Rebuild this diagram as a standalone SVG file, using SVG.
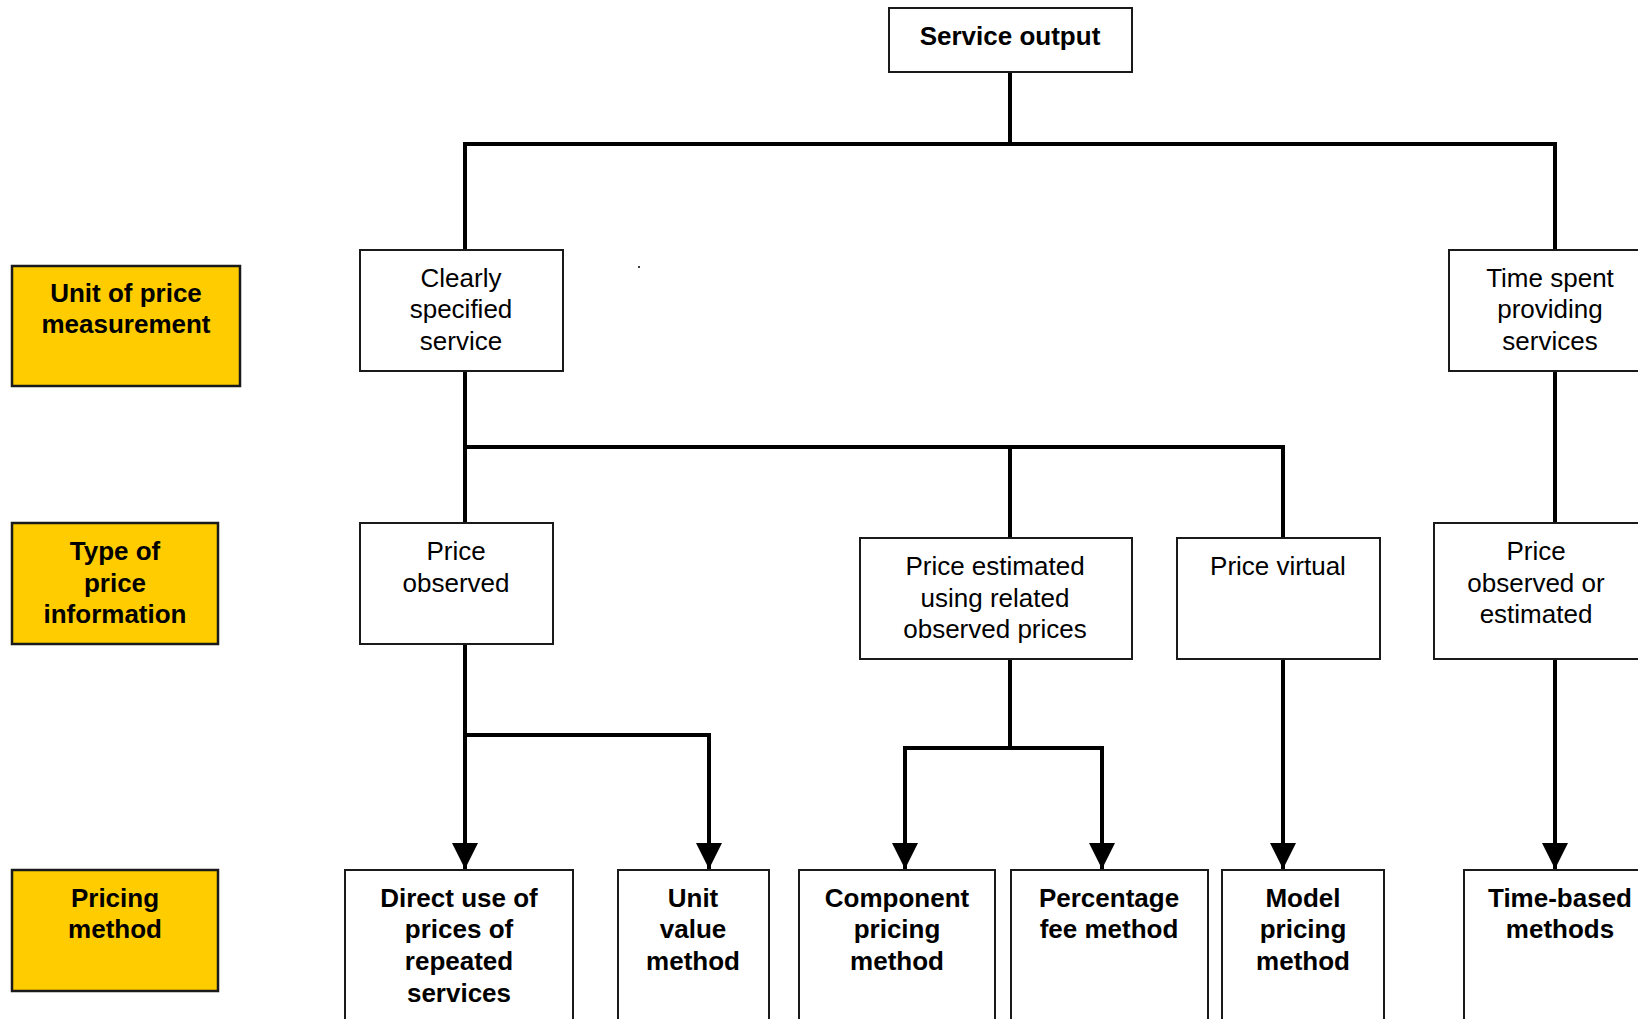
<svg xmlns="http://www.w3.org/2000/svg" width="1638" height="1019" viewBox="0 0 1638 1019">
<style>
.box{fill:#fff;stroke:#1a1a1a;stroke-width:2}
.lbl{fill:#FFCC00;stroke:#1a1a1a;stroke-width:2.5}
.t{font-family:"Liberation Sans",Arial,sans-serif;font-size:26px;fill:#000;text-anchor:middle}
.b{font-weight:bold}
.c{fill:none;stroke:#000;stroke-width:4;stroke-linejoin:miter;stroke-linecap:square}
.a{stroke-linecap:butt}
</style>
<defs>
<marker id="arr" markerUnits="userSpaceOnUse" markerWidth="26" markerHeight="26" viewBox="0 0 26 26" refX="26" refY="13" orient="auto">
<path d="M0,0 L26,13 L0,26 Z" fill="#000"/>
</marker>
</defs>
<rect width="1638" height="1019" fill="#fff"/>
<g id="connectors">
<path class="c" d="M1010,72 V144"/>
<path class="c" d="M465,250 V144 H1555 V250"/>
<path class="c" d="M465,371 V523"/>
<path class="c" d="M465,447 H1283 V541"/>
<path class="c" d="M1010,447 V537"/>
<path class="c" d="M1555,371 V523"/>
<path class="c" d="M465,735 H709"/>
<path class="c a" d="M465,644 V869" marker-end="url(#arr)"/>
<path class="c a" d="M709,735 V869" marker-end="url(#arr)"/>
<path class="c" d="M1010,659 V748"/>
<path class="c" d="M905,748 H1102"/>
<path class="c a" d="M905,748 V869" marker-end="url(#arr)"/>
<path class="c a" d="M1102,748 V869" marker-end="url(#arr)"/>
<path class="c a" d="M1283,659 V869" marker-end="url(#arr)"/>
<path class="c a" d="M1555,659 V869" marker-end="url(#arr)"/>
</g>
<g id="lbl-unit">
<rect class="lbl" x="12" y="266" width="228" height="120"/>
<text class="t b" x="126" y="302">Unit of price</text>
<text class="t b" x="126" y="333">measurement</text>
</g>
<g id="lbl-type">
<rect class="lbl" x="12" y="523" width="206" height="121"/>
<text class="t b" x="115" y="560">Type of</text>
<text class="t b" x="115" y="592">price</text>
<text class="t b" x="115" y="623">information</text>
</g>
<g id="lbl-method">
<rect class="lbl" x="12" y="870" width="206" height="121"/>
<text class="t b" x="115" y="907">Pricing</text>
<text class="t b" x="115" y="938">method</text>
</g>
<g id="service-output">
<rect class="box" x="889" y="8" width="243" height="64"/>
<text class="t b" x="1010" y="45">Service output</text>
</g>
<g id="clearly-specified">
<rect class="box" x="360" y="250" width="203" height="121"/>
<text class="t" x="461" y="287">Clearly</text>
<text class="t" x="461" y="318">specified</text>
<text class="t" x="461" y="350">service</text>
</g>
<g id="time-spent">
<rect class="box" x="1449" y="250" width="200" height="121"/>
<text class="t" x="1550" y="287">Time spent</text>
<text class="t" x="1550" y="318">providing</text>
<text class="t" x="1550" y="350">services</text>
</g>
<circle cx="639" cy="267" r="1" fill="#000"/>
<g id="price-observed">
<rect class="box" x="360" y="523" width="193" height="121"/>
<text class="t" x="456" y="560">Price</text>
<text class="t" x="456" y="592">observed</text>
</g>
<g id="price-estimated">
<rect class="box" x="860" y="538" width="272" height="121"/>
<text class="t" x="995" y="575">Price estimated</text>
<text class="t" x="995" y="607">using related</text>
<text class="t" x="995" y="638">observed prices</text>
</g>
<g id="price-virtual">
<rect class="box" x="1177" y="538" width="203" height="121"/>
<text class="t" x="1278" y="575">Price virtual</text>
</g>
<g id="price-observed-estimated">
<rect class="box" x="1434" y="523" width="215" height="136"/>
<text class="t" x="1536" y="560">Price</text>
<text class="t" x="1536" y="592">observed or</text>
<text class="t" x="1536" y="623">estimated</text>
</g>
<g id="direct-use">
<rect class="box" x="345" y="870" width="228" height="160"/>
<text class="t b" x="459" y="907">Direct use of</text>
<text class="t b" x="459" y="938">prices of</text>
<text class="t b" x="459" y="970">repeated</text>
<text class="t b" x="459" y="1002">services</text>
</g>
<g id="unit-value">
<rect class="box" x="618" y="870" width="151" height="160"/>
<text class="t b" x="693" y="907">Unit</text>
<text class="t b" x="693" y="938">value</text>
<text class="t b" x="693" y="970">method</text>
</g>
<g id="component">
<rect class="box" x="799" y="870" width="196" height="160"/>
<text class="t b" x="897" y="907">Component</text>
<text class="t b" x="897" y="938">pricing</text>
<text class="t b" x="897" y="970">method</text>
</g>
<g id="percentage">
<rect class="box" x="1011" y="870" width="197" height="160"/>
<text class="t b" x="1109" y="907">Percentage</text>
<text class="t b" x="1109" y="938">fee method</text>
</g>
<g id="model">
<rect class="box" x="1222" y="870" width="162" height="160"/>
<text class="t b" x="1303" y="907">Model</text>
<text class="t b" x="1303" y="938">pricing</text>
<text class="t b" x="1303" y="970">method</text>
</g>
<g id="time-based">
<rect class="box" x="1464" y="870" width="190" height="160"/>
<text class="t b" x="1560" y="907">Time-based</text>
<text class="t b" x="1560" y="938">methods</text>
</g>
</svg>
